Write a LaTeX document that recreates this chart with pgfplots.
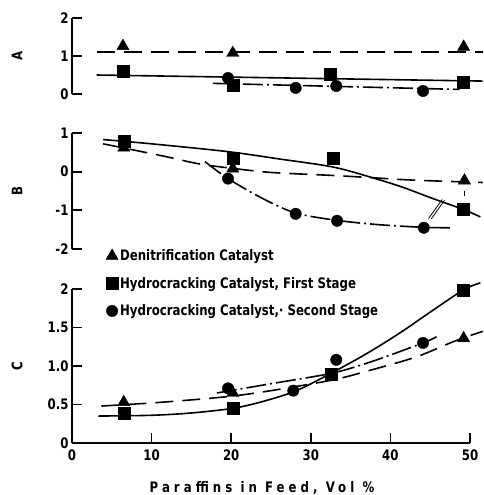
\documentclass[border=0pt]{standalone}
\usepackage{fontspec}
\setmainfont{DejaVu Sans Condensed}[FakeStretch=0.9]
\usepackage{pgfplots}
\pgfplotsset{compat=1.18}

\newcommand\lbl{\fontsize{14.5}{17}\selectfont\bfseries}

\pgfplotsset{
  panel/.style={
    scale only axis, width=398pt,
    xmin=0, xmax=50, clip=false,
    anchor=south west,
    axis line style={line width=1.7pt, -},
    tick style={line width=1.7pt, black},
    major tick length=10pt, tick align=inside,
    tick label style={font=\lbl},
    /pgf/number format/assume math mode=true,
    every axis y label/.style={at={(rel axis cs:0,0.5)}, xshift=-55pt,
      rotate=90, anchor=center, font=\lbl},
  },
  tri/.style={only marks, mark=triangle*, mark size=7pt, black},
  sqr/.style={only marks, mark=square*, mark size=6pt, black},
  cir/.style={only marks, mark=*, mark size=5.7pt, black},
  den/.style={black, line width=1.6pt, dash pattern=on 18pt off 9pt},
  first/.style={black, line width=1.6pt},
  second/.style={black, line width=1.6pt, dash pattern=on 20pt off 4pt on 2pt off 4pt},
}

\begin{document}
\begin{tikzpicture}
\path[use as bounding box] (0pt,0pt) rectangle (483pt,-495pt);

% ---- Panel A ----
\begin{axis}[panel, at={(72pt,-94pt)}, height=76pt,
  ymin=0, ymax=2, ytick={0,1,2},
  axis x line=none, axis y line*=left, ylabel={A}]
\addplot[den] coordinates {(3.1,1.10) (51.6,1.10)};
\addplot[first] coordinates {(3.1,0.50) (51.6,0.34)};
\addplot[second] coordinates {(17.7,0.28) (48.7,0.12)};
\addplot[tri] coordinates {(6.4,1.26) (20.2,1.08) (49.2,1.24)};
\addplot[sqr] coordinates {(6.4,0.60) (20.2,0.24) (32.4,0.53) (49.2,0.32)};
\addplot[cir] coordinates {(19.6,0.42) (28.1,0.16) (33.2,0.21) (44.1,0.08)};
\end{axis}

% ---- Panel B ----
\begin{axis}[panel, at={(72pt,-249pt)}, height=116pt,
  ymin=-2, ymax=1, ytick={-2,-1,0,1},
  axis x line=none, axis y line*=left, ylabel={B}]
\addplot[den, smooth] coordinates {(3.9,0.72) (8,0.55) (12,0.38) (16,0.20) (20,0.09)
  (25,-0.02) (33,-0.10) (38,-0.16) (43,-0.22) (51.6,-0.28)};
\addplot[first, smooth] coordinates {(3.9,0.83) (10,0.72) (19.5,0.52) (26,0.33)
  (32.8,0.12) (37.8,-0.16) (41.5,-0.40) (45.4,-0.70) (49.2,-0.98) (51.3,-1.17)};
\addplot[second, smooth] coordinates {(16.7,0.26) (19.6,-0.18) (24,-0.70) (28.1,-1.07)
  (33.3,-1.26) (38.5,-1.37) (44.2,-1.44) (47.5,-1.45)};
\addplot[tri] coordinates {(6.5,0.62) (20.2,0.08) (49.3,-0.23)};
\addplot[sqr] coordinates {(6.5,0.78) (20.2,0.36) (32.8,0.36) (49.2,-0.98)};
\addplot[cir] coordinates {(19.6,-0.18) (28.1,-1.09) (33.3,-1.27) (44.2,-1.45)};
% leader strokes
\draw[line width=0.8pt] (axis cs:46.5,-0.72) -- (axis cs:44.8,-1.21);
\draw[line width=0.8pt] (axis cs:46.8,-0.74) -- (axis cs:45.1,-1.23);
\draw[line width=1.2pt] (axis cs:49.3,-0.50) -- (axis cs:49.3,-0.62);
\end{axis}

% ---- Panel C ----
\begin{axis}[panel, at={(72pt,-443pt)}, height=154pt,
  ymin=0, ymax=2, ytick={0,0.5,1,1.5,2},
  yticklabels={0,0.5,1.0,1.5,2},
  xtick={0,10,20,30,40,50},
  xticklabel style={yshift=-3pt},
  axis x line*=bottom, axis y line*=left, ylabel={C},
  xlabel={\addfontfeatures{LetterSpace=28}Paraffins in Feed, Vol \%},
  xlabel style={font=\lbl, yshift=-14pt, xshift=-9pt},
  legend cell align=left,
  legend image code/.code={\draw[#1] plot coordinates {(0pt,0pt)};},
  legend style={at={(axis description cs:0.085,1.27)}, anchor=north west,
    draw=none, fill=none, font=\lbl, row sep=11pt, inner sep=0pt,
    nodes={inner sep=2pt}}]
\addlegendimage{tri}
\addlegendimage{sqr}
\addlegendimage{cir}
\legend{Denitrification Catalyst, {Hydrocracking Catalyst, First Stage},
  {Hydrocracking Catalyst,· Second Stage}}
\addplot[den, smooth] coordinates {(3.7,0.48) (10,0.52) (15,0.56) (20.2,0.61) (25,0.68)
  (32.8,0.82) (38,0.96) (43.3,1.12) (48,1.32) (51.6,1.45)};
\addplot[first, smooth] coordinates {(3.3,0.35) (10,0.36) (15,0.39) (20.2,0.45) (24,0.54)
  (28.2,0.68) (32.8,0.92) (37,1.16) (41.2,1.43) (45,1.70) (49.2,1.99) (51.3,2.08)};
\addplot[second, smooth] coordinates {(18.2,0.65) (25,0.77) (32.8,0.91) (38,1.07)
  (44.1,1.30) (45.8,1.38)};
\addplot[tri] coordinates {(6.5,0.53) (20.2,0.65) (49.2,1.36)};
\addplot[sqr] coordinates {(6.5,0.39) (20.2,0.45) (32.6,0.90) (49.2,1.99)};
\addplot[cir] coordinates {(19.6,0.71) (27.8,0.68) (33.2,1.08) (44.1,1.30)};
\end{axis}
\end{tikzpicture}
\end{document}
